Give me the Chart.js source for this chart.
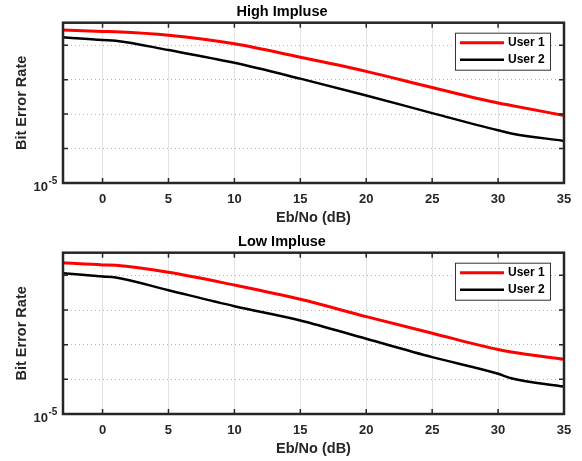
<!DOCTYPE html>
<html>
<head>
<meta charset="utf-8">
<script src="https://cdn.jsdelivr.net/npm/chart.js@4"></script>
<style>
html, body { margin: 0; padding: 0; background: #fff; }
canvas { display: block; }
</style>
</head>
<body>
<canvas id="highChart" width="582" height="230"></canvas>
<canvas id="lowChart" width="582" height="231"></canvas>
<script>
// Eb/No points (dB)
const ebNo = [-3, 0, 1, 5, 10, 15, 20, 25, 30, 31, 35];

// High impulse
const highUser1 = [0.275, 0.251, 0.245, 0.195, 0.110, 0.0447, 0.0174, 0.00589, 0.00209, 0.00178, 0.000912];
const highUser2 = [0.170, 0.141, 0.135, 0.0724, 0.0309, 0.0107, 0.00347, 0.00107, 0.000339, 0.000275, 0.000166];

// Low impulse
const lowUser1 = [0.229, 0.200, 0.195, 0.123, 0.0525, 0.0204, 0.00646, 0.00214, 0.000724, 0.000617, 0.000380];
const lowUser2 = [0.115, 0.0933, 0.0871, 0.0372, 0.0129, 0.00501, 0.00148, 0.000437, 0.000145, 0.000107, 0.0000617];

const xTicks = [0, 5, 10, 15, 20, 25, 30, 35];
const yTicks = [1e-5, 1e-4, 1e-3, 1e-2, 1e-1];
const seriesNames = ["User 1", "User 2"];

const FONT = "'Liberation Sans', Arial, sans-serif";
const AXIS_COLOR = "#262626";

// frame, inward tick marks, the 10^-5 label and the legend box
const framePlugin = {
    id: "frame",
    afterDraw(chart) {
        const { ctx, chartArea: a, scales: { x, y } } = chart;
        ctx.save();
        ctx.strokeStyle = AXIS_COLOR;
        ctx.lineWidth = 1.5;
        ctx.beginPath();
        x.ticks.forEach(t => {
            const px = x.getPixelForValue(t.value);
            ctx.moveTo(px, a.bottom); ctx.lineTo(px, a.bottom - 5);
            ctx.moveTo(px, a.top); ctx.lineTo(px, a.top + 5);
        });
        y.ticks.forEach(t => {
            const py = y.getPixelForValue(t.value);
            ctx.moveTo(a.left, py); ctx.lineTo(a.left + 5, py);
            ctx.moveTo(a.right, py); ctx.lineTo(a.right - 5, py);
        });
        ctx.stroke();

        ctx.lineWidth = 2.5;
        ctx.strokeRect(a.left, a.top, a.right - a.left, a.bottom - a.top);

        // bottom decade label, with its exponent raised
        const py0 = y.getPixelForValue(yTicks[0]);
        ctx.fillStyle = AXIS_COLOR;
        ctx.textBaseline = "middle";
        ctx.textAlign = "right";
        ctx.font = "bold 13px " + FONT;
        ctx.fillText("10", a.left - 15, py0 + 4);
        ctx.textAlign = "left";
        ctx.font = "bold 10px " + FONT;
        ctx.fillText("-5", a.left - 14.5, py0 - 1.5);

        // legend
        const bx = a.right - 109, by = a.top + 10, bw = 95, bh = 37;
        ctx.fillStyle = "#fff";
        ctx.fillRect(bx, by, bw, bh);
        ctx.lineWidth = 1;
        ctx.strokeStyle = "#333";
        ctx.strokeRect(bx + 0.5, by + 0.5, bw, bh);
        ctx.font = "bold 12px " + FONT;
        ctx.textBaseline = "middle";
        ctx.textAlign = "left";
        chart.data.datasets.forEach((ds, i) => {
            const ly = by + 10 + i * 17;
            ctx.strokeStyle = ds.borderColor;
            ctx.lineWidth = ds.borderWidth;
            ctx.beginPath();
            ctx.moveTo(bx + 5, ly);
            ctx.lineTo(bx + 49, ly);
            ctx.stroke();
            ctx.fillStyle = "#000";
            ctx.fillText(ds.label, bx + 53, ly);
        });
        ctx.restore();
    }
};

function makeChart(id, title, user1, user2) {
    return new Chart(document.getElementById(id), {
        type: "line",
        data: {
            datasets: [{
                label: seriesNames[0],
                data: ebNo.map((v, i) => ({ x: v, y: user1[i] })),
                borderColor: "#ff0000",
                borderWidth: 3,
                pointRadius: 0,
                cubicInterpolationMode: "monotone",
                fill: false
            }, {
                label: seriesNames[1],
                data: ebNo.map((v, i) => ({ x: v, y: user2[i] })),
                borderColor: "#000000",
                borderWidth: 2.5,
                pointRadius: 0,
                cubicInterpolationMode: "monotone",
                fill: false
            }]
        },
        options: {
            responsive: false,
            animation: false,
            layout: { padding: { left: 0, right: 18, top: 0, bottom: 0 } },
            plugins: {
                legend: { display: false },
                tooltip: { enabled: false },
                title: {
                    display: true,
                    text: title,
                    color: "#000",
                    font: { family: FONT, size: 14.5, weight: "bold" },
                    padding: { top: 3, bottom: 2.3 }
                }
            },
            scales: {
                x: {
                    type: "linear",
                    min: -3,
                    max: 35,
                    afterBuildTicks: s => { s.ticks = xTicks.map(v => ({ value: v })); },
                    afterFit: s => { s.height = 47; },
                    grid: { color: "#e2e2e2", drawTicks: false },
                    border: { display: false },
                    ticks: {
                        color: AXIS_COLOR,
                        padding: 9,
                        maxRotation: 0,
                        font: { family: FONT, size: 13, weight: "bold" }
                    },
                    title: {
                        display: true,
                        text: "Eb/No (dB)",
                        color: AXIS_COLOR,
                        font: { family: FONT, size: 14.5, weight: "bold" },
                        padding: { top: 0, bottom: 3 }
                    }
                },
                y: {
                    type: "logarithmic",
                    min: 1e-5,
                    max: 0.45,
                    afterBuildTicks: s => { s.ticks = yTicks.map(v => ({ value: v })); },
                    afterFit: s => { s.width = 63; },
                    grid: { color: "#b5b5b5", drawTicks: false },
                    border: { display: false, dash: [1, 3] },
                    ticks: {
                        color: AXIS_COLOR,
                        padding: 4,
                        font: { family: FONT, size: 13, weight: "bold" },
                        callback: () => ""
                    },
                    title: {
                        display: true,
                        text: "Bit Error Rate",
                        color: AXIS_COLOR,
                        font: { family: FONT, size: 14.5, weight: "bold" },
                        padding: { top: 13.3, bottom: 0 }
                    }
                }
            }
        },
        plugins: [framePlugin]
    });
}

makeChart("highChart", "High Impluse", highUser1, highUser2);
makeChart("lowChart", "Low Impluse", lowUser1, lowUser2);
</script>
</body>
</html>
